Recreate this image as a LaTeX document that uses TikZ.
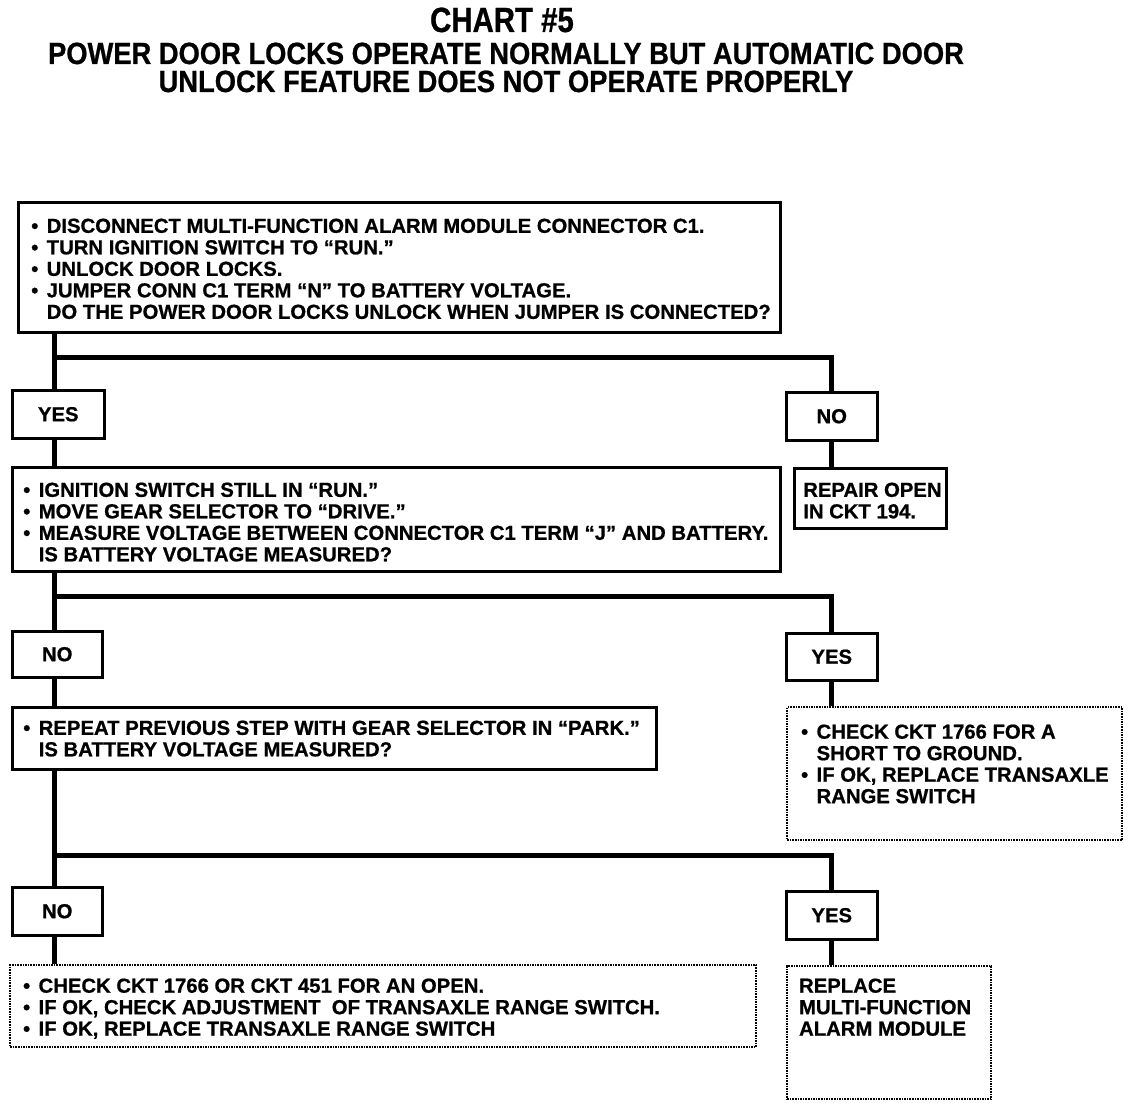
\documentclass[tikz,border=0pt]{standalone}
\usepackage{fontspec}
\setmainfont{Liberation Sans}[BoldFeatures={FakeBold=0.8}]
\newcommand\bx[5]{\parbox[c][#2pt][t]{#1pt}{\raggedright\leftskip=#3pt\relax\vspace*{#4pt}#5}}
\newcommand\lbl[3]{\parbox[c][#2pt][c]{#1pt}{\centering #3}}
\newcommand\bul{\makebox[15.5pt][l]{•}}
\newcommand\ind{\hspace*{15.5pt}}
\begin{document}
\begin{tikzpicture}[x=1pt,y=-1pt,
  every node/.style={font=\bfseries\fontsize{20.3pt}{21.5pt}\selectfont},
  solidbox/.style={draw, rectangle, line width=2.5pt, inner sep=0pt, anchor=north west},
  dotbox/.style={draw, rectangle, line width=2.2pt, dash pattern=on 1.6pt off 1pt, inner sep=0pt, anchor=north west},
  conn/.style={line width=5pt, line join=miter},
  titletext/.style={anchor=base, font=\bfseries\fontsize{35pt}{36pt}\selectfont},
  subtext/.style={anchor=base, font=\bfseries\fontsize{30.7pt}{31pt}\selectfont}]
\useasboundingbox (0,0) rectangle (1136,1108);

% titles
\node[titletext] (title) at (502,32) {\scalebox{0.84}[1]{CHART \#5}};
\node[subtext] (sub1) at (506,64) {\scalebox{0.89}[1]{POWER DOOR LOCKS OPERATE NORMALLY BUT AUTOMATIC DOOR}};
\node[subtext] (sub2) at (506,92) {\scalebox{0.89}[1]{UNLOCK FEATURE DOES NOT OPERATE PROPERLY}};

% boxes
\node[solidbox] (b1) at (17,201) {\bx{762}{130}{13}{16.4}{%
\bul DISCONNECT MULTI-FUNCTION ALARM MODULE CONNECTOR C1.\\
\bul TURN IGNITION SWITCH TO “RUN.”\\
\bul UNLOCK DOOR LOCKS.\\
\bul JUMPER CONN C1 TERM “N” TO BATTERY VOLTAGE.\\
\ind DO THE POWER DOOR LOCKS UNLOCK WHEN JUMPER IS CONNECTED?}};

\node[solidbox] (y1) at (11,389) {\lbl{92}{48}{YES}};
\node[solidbox] (n1) at (785,391) {\lbl{91}{48}{NO}};

\node[solidbox] (b2) at (11,466) {\bx{768}{104}{11}{15.4}{%
\bul IGNITION SWITCH STILL IN “RUN.”\\
\bul MOVE GEAR SELECTOR TO “DRIVE.”\\
\bul MEASURE VOLTAGE BETWEEN CONNECTOR C1 TERM “J” AND BATTERY.\\
\ind IS BATTERY VOLTAGE MEASURED?}};

\node[solidbox] (r1) at (793,467) {\bx{152}{60}{9}{14.4}{%
REPAIR OPEN\\
IN CKT 194.}};

\node[solidbox] (n2) at (11,630) {\lbl{90}{46}{NO}};
\node[solidbox] (y2) at (785,632) {\lbl{91}{47}{YES}};

\node[solidbox] (b3) at (11,706) {\bx{644}{62}{11}{13.4}{%
\bul REPEAT PREVIOUS STEP WITH GEAR SELECTOR IN “PARK.”\\
\ind IS BATTERY VOLTAGE MEASURED?}};

\node[dotbox] (d1) at (786,706) {\bx{335}{133}{14}{17.4}{%
\bul CHECK CKT 1766 FOR A\\
\ind SHORT TO GROUND.\\
\bul IF OK, REPLACE TRANSAXLE\\
\ind RANGE SWITCH}};

\node[solidbox] (n3) at (11,886) {\lbl{90}{48}{NO}};
\node[solidbox] (y3) at (785,890) {\lbl{91}{48}{YES}};

\node[dotbox] (d2) at (9,964) {\bx{746}{82}{13}{13.4}{%
\bul CHECK CKT 1766 OR CKT 451 FOR AN OPEN.\\
\bul IF OK, CHECK ADJUSTMENT\ \ OF TRANSAXLE RANGE SWITCH.\\
\bul IF OK, REPLACE TRANSAXLE RANGE SWITCH}};

\node[dotbox] (d3) at (786,965) {\bx{204}{133}{12}{12.4}{%
REPLACE\\
MULTI-FUNCTION\\
ALARM MODULE}};

% junctions
\coordinate (j1) at (54,357);
\coordinate (j2) at (54,596);
\coordinate (j3) at (54,855);

% connectors
\draw[conn] (b1.south -| j1) -- (y1.north -| j1);
\draw[conn] (j1) -| (n1.north);
\draw[conn] (y1.south -| j1) -- (b2.north -| j1);
\draw[conn] (n1.south) -- (n1.south |- r1.north);

\draw[conn] (b2.south -| j2) -- (n2.north -| j2);
\draw[conn] (j2) -| (y2.north);
\draw[conn] (n2.south -| j2) -- (b3.north -| j2);
\draw[conn] (y2.south) -- (y2.south |- d1.north);

\draw[conn] (b3.south -| j3) -- (n3.north -| j3);
\draw[conn] (j3) -| (y3.north);
\draw[conn] (n3.south -| j3) -- (d2.north -| j3);
\draw[conn] (y3.south) -- (y3.south |- d3.north);
\end{tikzpicture}
\end{document}
